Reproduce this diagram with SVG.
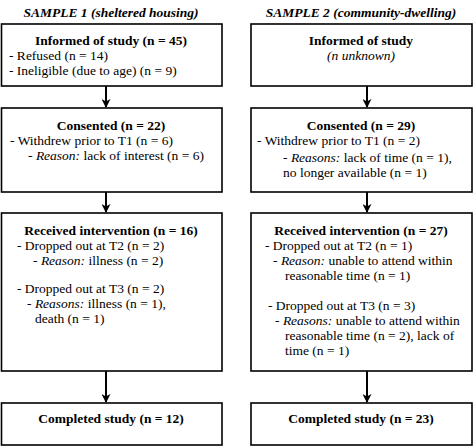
<svg xmlns="http://www.w3.org/2000/svg" width="473" height="446" viewBox="0 0 473 446">
<defs>
<style>
.box{fill:#fff;stroke:#000;stroke-width:1.6}
text{font-family:"Liberation Serif","Times New Roman",serif;font-size:13.5px;fill:#000}
.b{font-weight:bold}
.i{font-style:italic}
.t{font-weight:bold;font-style:italic}
.c{text-anchor:middle}
.edge{stroke:#000;stroke-width:2;fill:none}
</style>
<marker id="ah" viewBox="0 0 10 10" refX="9" refY="5" markerWidth="4.5" markerHeight="4.5" orient="auto" markerUnits="strokeWidth">
<path d="M0,0 L10,5 L0,10 L3,5 Z" fill="#000"/>
</marker>
</defs>
<rect width="473" height="446" fill="#fff"/>
<text class="t c" x="111" y="17">SAMPLE 1 (sheltered housing)</text>
<text class="t c" x="361" y="17">SAMPLE 2 (community-dwelling)</text>
<g id="connectors">
<line class="edge" x1="106" y1="86" x2="106" y2="107" marker-end="url(#ah)"/>
<line class="edge" x1="106" y1="192" x2="106" y2="212" marker-end="url(#ah)"/>
<line class="edge" x1="106" y1="371" x2="106" y2="402" marker-end="url(#ah)"/>
<line class="edge" x1="367" y1="86" x2="367" y2="107" marker-end="url(#ah)"/>
<line class="edge" x1="367" y1="192" x2="367" y2="212" marker-end="url(#ah)"/>
<line class="edge" x1="367" y1="371" x2="367" y2="402" marker-end="url(#ah)"/>
</g>
<g id="s1-informed">
<rect class="box" x="1.5" y="24" width="220.5" height="62"/>
<text class="b c" x="111" y="45">Informed of study (n = 45)</text>
<text x="9" y="60">- Refused (n = 14)</text>
<text x="9" y="75">- Ineligible (due to age) (n = 9)</text>
</g>
<g id="s1-consented">
<rect class="box" x="1.5" y="108" width="220.5" height="84"/>
<text class="b c" x="111" y="130">Consented (n = 22)</text>
<text x="10" y="145">- Withdrew prior to T1 (n = 6)</text>
<text x="28" y="160">- <tspan class="i">Reason:</tspan> lack of interest (n = 6)</text>
</g>
<g id="s1-received">
<rect class="box" x="1.5" y="213" width="220.5" height="158"/>
<text class="b c" x="111" y="235">Received intervention (n = 16)</text>
<text x="17" y="250">- Dropped out at T2 (n = 2)</text>
<text x="33" y="265">- <tspan class="i">Reason:</tspan> illness (n = 2)</text>
<text x="17" y="293">- Dropped out at T3 (n = 2)</text>
<text x="27" y="308">- <tspan class="i">Reasons:</tspan> illness (n = 1),</text>
<text x="35" y="323">death (n = 1)</text>
</g>
<g id="s1-completed">
<rect class="box" x="1.5" y="403" width="220.5" height="42"/>
<text class="b c" x="111" y="423">Completed study (n = 12)</text>
</g>
<g id="s2-informed">
<rect class="box" x="251" y="24" width="221" height="62"/>
<text class="b c" x="361" y="45">Informed of study</text>
<text class="i c" x="361" y="60">(n unknown)</text>
</g>
<g id="s2-consented">
<rect class="box" x="251" y="108" width="221" height="84"/>
<text class="b c" x="361" y="130">Consented (n = 29)</text>
<text x="257" y="145">- Withdrew prior to T1 (n = 2)</text>
<text x="283" y="162">- <tspan class="i">Reasons:</tspan> lack of time (n = 1),</text>
<text x="283" y="177">no longer available (n = 1)</text>
</g>
<g id="s2-received">
<rect class="box" x="251" y="213" width="221" height="158"/>
<text class="b c" x="361" y="235">Received intervention (n = 27)</text>
<text x="265" y="250">- Dropped out at T2 (n = 1)</text>
<text x="273" y="265">- <tspan class="i">Reason:</tspan> unable to attend within</text>
<text x="285" y="280">reasonable time (n = 1)</text>
<text x="268" y="310">- Dropped out at T3 (n = 3)</text>
<text x="275" y="325">- <tspan class="i">Reasons:</tspan> unable to attend within</text>
<text x="285" y="340">reasonable time (n = 2), lack of</text>
<text x="285" y="355">time (n = 1)</text>
</g>
<g id="s2-completed">
<rect class="box" x="251" y="403" width="221" height="42"/>
<text class="b c" x="361" y="423">Completed study (n = 23)</text>
</g>
</svg>
